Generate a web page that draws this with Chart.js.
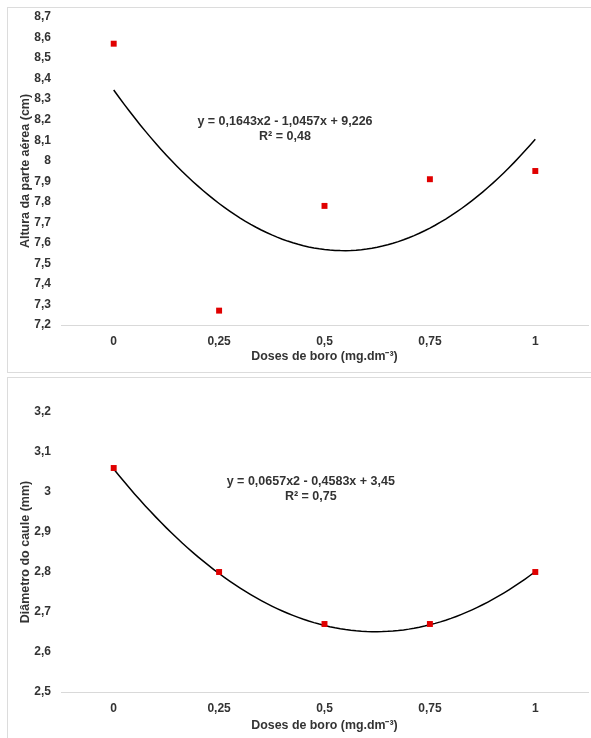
<!DOCTYPE html>
<html><head><meta charset="utf-8">
<script src="https://cdn.jsdelivr.net/npm/chart.js@4/dist/chart.umd.min.js"></script>
<style>
html,body{margin:0;padding:0;background:#fff;overflow:hidden;width:591px;height:738px;}
.panel{position:absolute;border:1px solid #dcdcdc;background:#fff;}
canvas{display:block;}
</style></head>
<body>
<div class="panel" style="left:7px;top:7px;width:590px;height:364px;"><canvas id="c1" width="590" height="364"></canvas></div>
<div class="panel" style="left:7px;top:377px;width:590px;height:362px;"><canvas id="c2" width="590" height="360"></canvas></div>
<script>
// ---- data ----
const doses = ['0', '0,25', '0,5', '0,75', '1'];
const altura = [8.57, 7.27, 7.78, 7.91, 7.95];
const diametro = [3.06, 2.80, 2.67, 2.67, 2.80];
const alturaTicks = [7.2, 7.3, 7.4, 7.5, 7.6, 7.7, 7.8, 7.9, 8.0, 8.1, 8.2, 8.3, 8.4, 8.5, 8.6, 8.7];
const diametroTicks = [2.5, 2.6, 2.7, 2.8, 2.9, 3.0, 3.1, 3.2];
// trendline coefficients as printed on the chart (a, b, c) for y = a x^2 + b x + c, x = 1..5
const alturaCoef = [0.1643, -1.0457, 9.226];
const diametroCoef = [0.0657, -0.4583, 3.45];
const alturaEq = ['y = 0,1643x2 - 1,0457x + 9,226', 'R² = 0,48'];
const diametroEq = ['y = 0,0657x2 - 0,4583x + 3,45', 'R² = 0,75'];

const TXT = '#333333';
const FONT = "'Liberation Sans', Arial, sans-serif";

function curve(coef) {
  const pts = [];
  for (let i = 0; i <= 80; i++) {
    const x = 1 + i * 4 / 80;
    pts.push({x: x, y: coef[0] * x * x + coef[1] * x + coef[2]});
  }
  return pts;
}
function fmt(v) { return String(Number(v.toFixed(2))).replace('.', ','); }

const eqPlugin = {
  id: 'eq',
  afterDatasetsDraw(chart, args, opts) {
    const {ctx, scales} = chart;
    ctx.save();
    ctx.font = 'bold 12.5px ' + FONT;
    ctx.fillStyle = TXT;
    ctx.textAlign = 'center';
    ctx.textBaseline = 'middle';
    opts.lines.forEach((t, i) => {
      ctx.fillText(t, scales.x.getPixelForValue(opts.x), scales.y.getPixelForValue(opts.y[i]));
    });
    ctx.restore();
  }
};

function make(id, values, ticks, coef, eq, eqPos, yTitle, cfg) {
  new Chart(document.getElementById(id), {
    type: 'scatter',
    data: {
      datasets: [
        {
          type: 'line',
          data: curve(coef),
          borderColor: '#000',
          borderWidth: 1.5,
          pointRadius: 0,
          fill: false,
          tension: 0,
          order: 2
        },
        {
          data: values.map((v, i) => ({x: i + 1, y: v})),
          backgroundColor: '#e00000',
          borderColor: '#e00000',
          borderWidth: 0,
          pointStyle: 'rect',
          pointRadius: 4.2,
          order: 1
        }
      ]
    },
    options: {
      responsive: false,
      animation: false,
      events: [],
      layout: {padding: {left: 0, right: 10, top: cfg.top, bottom: 0}},
      plugins: {
        legend: {display: false},
        tooltip: {enabled: false},
        eq: {lines: eq, x: eqPos.x, y: eqPos.y}
      },
      scales: {
        x: {
          type: 'linear',
          min: 0.5, max: 5.5,
          afterBuildTicks: s => { s.ticks = doses.map((d, i) => ({value: i + 1})); },
          afterFit: s => { s.height = cfg.xh; },
          ticks: {
            callback: (v) => doses[Math.round(v) - 1],
            color: TXT, font: {family: FONT, size: 12, weight: 'bold'}, padding: 9, maxRotation: 0
          },
          grid: {display: false, drawTicks: false},
          border: {display: true, color: '#d9d9d9', width: 1},
          title: {
            display: true, text: 'Doses de boro (mg.dm⁻³)', color: TXT,
            font: {family: FONT, size: 12.4, weight: 'bold'}, padding: {top: 0, bottom: cfg.tb}
          }
        },
        y: {
          min: ticks[0], max: ticks[ticks.length - 1],
          afterBuildTicks: s => { s.ticks = ticks.map(v => ({value: v})); },
          afterFit: s => { s.width = 53; s.paddingTop = 6; s.paddingBottom = 6; },
          ticks: {
            callback: v => fmt(v),
            color: TXT, font: {family: FONT, size: 12, weight: 'bold'}, padding: 10
          },
          grid: {display: false, drawTicks: false},
          border: {display: false},
          title: {
            display: true, text: yTitle, color: TXT,
            font: {family: FONT, size: 12.5, weight: 'bold'}, padding: {top: 10, bottom: 0}
          }
        }
      }
    },
    plugins: [eqPlugin]
  });
}

make('c1', altura, alturaTicks, alturaCoef, alturaEq, {x: 2.625, y: [8.193, 8.12]},
     'Altura da parte aérea (cm)', {top: 9, xh: 47, tb: 8});
make('c2', diametro, diametroTicks, diametroCoef, diametroEq, {x: 2.87, y: [3.026, 2.988]},
     'Diâmetro do caule (mm)', {top: 34, xh: 46, tb: 5});
</script>
</body></html>
